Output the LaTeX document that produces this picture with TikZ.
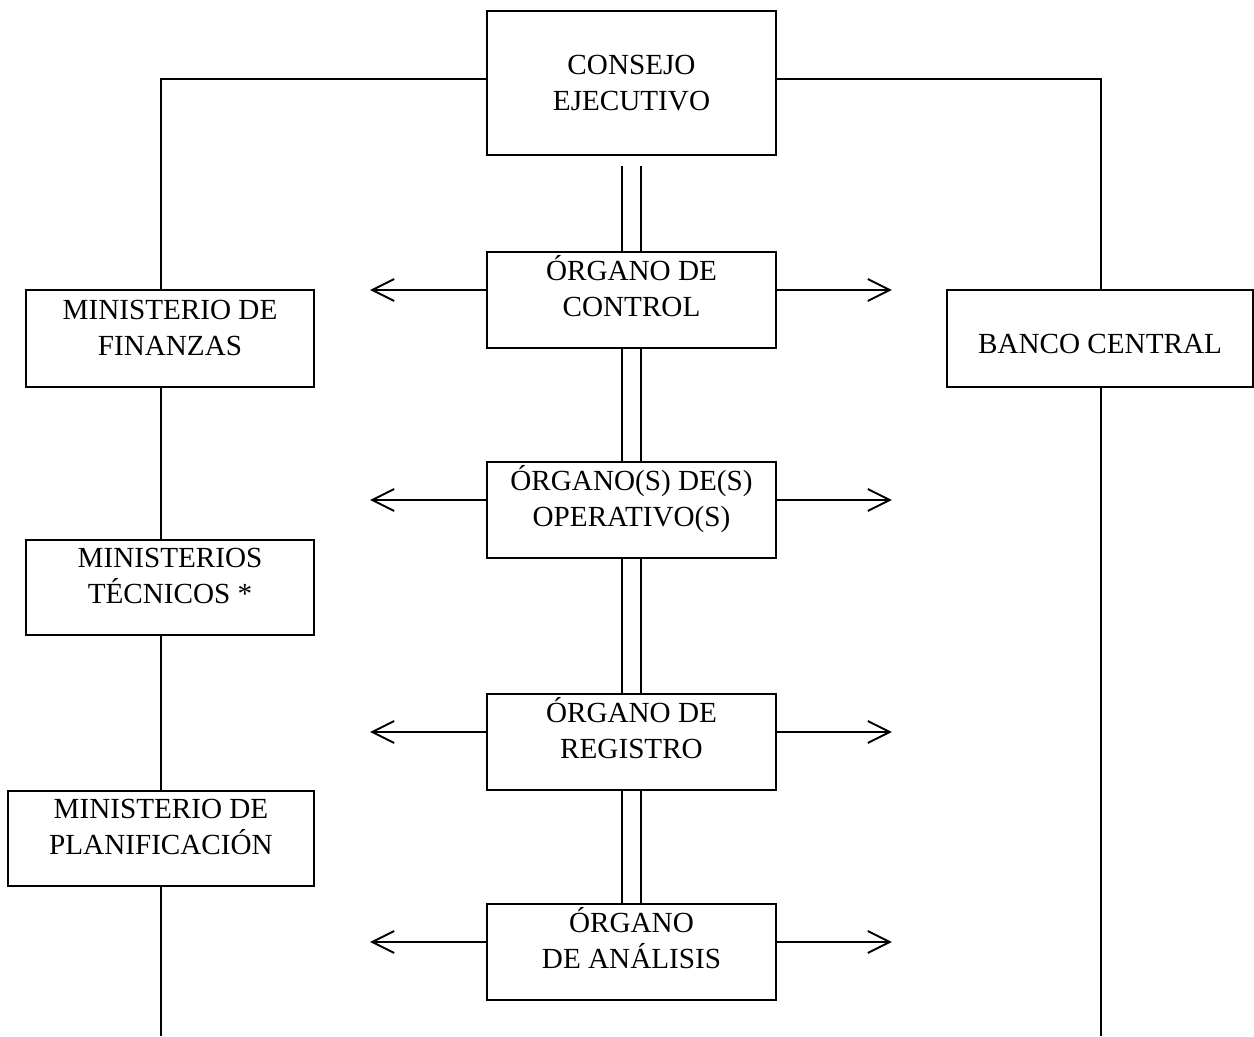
\documentclass[tikz,border=0pt]{standalone}
\usepackage{fontspec}
\setmainfont{Liberation Serif}
\usetikzlibrary{arrows.meta,calc}

\begin{document}
\begin{tikzpicture}[
  x=0.02cm, y=-0.02cm,
  every node/.style={font=\fontsize{16.6}{20}\selectfont},
  box/.style={draw, line width=1.1pt, align=center, inner sep=0pt,
              minimum width=5.78cm, text height=1.28cm, text depth=0.64cm},
  link/.style={line width=1.1pt},
  arr/.style={-{Straight Barb[length=4.4mm, width=4.4mm]}, line width=1.1pt},
]
\useasboundingbox (0,0) rectangle (1254,1036);

% central column
\node[box, text height=1.98cm, text depth=0.9cm] (consejo) at (631.5,83) {CONSEJO\\EJECUTIVO};
\node[box] (ctrl) at (631.5,300) {ÓRGANO DE\\CONTROL};
\node[box] (oper) at (631.5,510) {ÓRGANO(S) DE(S)\\OPERATIVO(S)};
\node[box] (reg)  at (631.5,742) {ÓRGANO DE\\REGISTRO};
\node[box] (anal) at (631.5,952) {ÓRGANO\\DE ANÁLISIS};

% side boxes
\node[box, minimum width=5.76cm, text height=1.3cm, text depth=0.64cm] (fin) at (170,338.5) {MINISTERIO DE\\FINANZAS};
\node[box, minimum width=5.76cm, text height=1.26cm, text depth=0.64cm] (tec) at (170,587.5) {MINISTERIOS\\TÉCNICOS *};
\node[box, minimum width=6.12cm, text height=1.26cm, text depth=0.64cm] (plan) at (161,838.5) {MINISTERIO DE\\PLANIFICACIÓN};
\node[box, minimum width=6.12cm, text height=1.26cm, text depth=0.68cm] (banco) at (1100,338.5) {BANCO CENTRAL};

\coordinate (lcol) at (161,0);
\coordinate (rcol) at (1101,0);
\coordinate (bot)  at (0,1036);

% left and right branches
\draw[link] ($(consejo.west)+(0,-4)$) -| (lcol |- fin.north);
\draw[link] (lcol |- fin.south) -- (lcol |- tec.north);
\draw[link] (lcol |- tec.south) -- (plan.north);
\draw[link] (plan.south) -- (plan.south |- bot);
\draw[link] ($(consejo.east)+(0,-4)$) -| (rcol |- banco.north);
\draw[link] (rcol |- banco.south) -- (rcol |- bot);

% double lines
\foreach \dx in {-9.5,9.5} {
  \draw[link] ($(consejo.south)+(\dx,10)$) -- ($(ctrl.north)+(\dx,0)$);
  \foreach \a/\b in {ctrl/oper,oper/reg,reg/anal}
    \draw[link] ($(\a.south)+(\dx,0)$) -- ($(\b.north)+(\dx,0)$);
}

% arrows
\foreach \n in {ctrl,oper,reg,anal} {
  \draw[arr] ($(\n.west)+(0,-10)$) -- ++(-116,0);
  \draw[arr] ($(\n.east)+(0,-10)$) -- ++(115,0);
}
\end{tikzpicture}
\end{document}
